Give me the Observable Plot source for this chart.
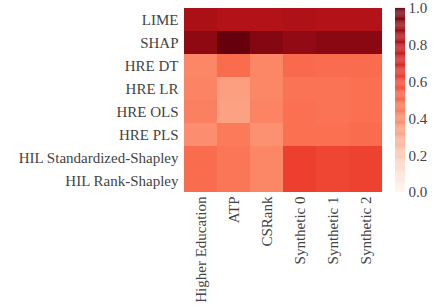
<!DOCTYPE html>
<html>
<head>
<meta charset="utf-8">
<script src="https://cdn.jsdelivr.net/npm/d3@7"></script>
<script src="https://cdn.jsdelivr.net/npm/@observablehq/plot@0.6"></script>
<style>
  body { margin: 0; background: #fff; }
  #wrap { position: relative; width: 433px; height: 308px; }
  #wrap svg { position: absolute; top: 0; }
</style>
</head>
<body>
<div id="wrap"></div>
<script>
const methods = ["LIME", "SHAP", "HRE DT", "HRE LR", "HRE OLS", "HRE PLS", "HIL Standardized-Shapley", "HIL Rank-Shapley"];
const datasets = ["Higher Education", "ATP", "CSRank", "Synthetic 0", "Synthetic 1", "Synthetic 2"];
const LIME = [0.85, 0.83, 0.83, 0.84, 0.83, 0.83];
const SHAP = [0.92, 1.00, 0.94, 0.91, 0.93, 0.93];
const HRE_DT = [0.41, 0.49, 0.41, 0.50, 0.49, 0.49];
const HRE_LR = [0.42, 0.34, 0.41, 0.47, 0.47, 0.48];
const HRE_OLS = [0.43, 0.33, 0.42, 0.48, 0.47, 0.48];
const HRE_PLS = [0.39, 0.45, 0.38, 0.48, 0.48, 0.49];
const HIL_STD = [0.49, 0.46, 0.41, 0.62, 0.60, 0.61];
const HIL_RANK = [0.49, 0.46, 0.41, 0.62, 0.60, 0.61];
const colorTicks = [0, 0.2, 0.4, 0.6, 0.8, 1.0];

const rows = [LIME, SHAP, HRE_DT, HRE_LR, HRE_OLS, HRE_PLS, HIL_STD, HIL_RANK];
const cells = [];
methods.forEach((m, i) => datasets.forEach((d, j) => cells.push({method: m, dataset: d, value: rows[i][j]})));

const font = "'Liberation Serif', 'DejaVu Serif', serif";
const colorOpts = {type: "linear", scheme: "reds", domain: [0, 1]};

const heat = Plot.plot({
  width: 433, height: 308,
  marginLeft: 183, marginRight: 50, marginTop: 8, marginBottom: 116,
  style: {fontFamily: font, fontSize: "15px", color: "#444", background: "transparent"},
  x: {domain: datasets, padding: 0, label: null, tickRotate: -90, tickSize: 0, tickPadding: 4},
  y: {domain: methods, padding: 0, label: null, tickSize: 0, tickPadding: 5},
  color: colorOpts,
  marks: [
    Plot.cell(cells, {x: "dataset", y: "method", fill: "value", inset: 0})
  ]
});

const stops = d3.range(0, 1, 0.005);
const bar = Plot.plot({
  width: 433, height: 308,
  marginLeft: 395, marginRight: 28, marginTop: 8, marginBottom: 116,
  style: {fontFamily: font, fontSize: "15px", color: "#444", background: "transparent"},
  x: {axis: null},
  y: {domain: [0, 1], ticks: colorTicks, tickFormat: d3.format(".1f"), axis: "right", label: null, tickSize: 0, tickPadding: 3},
  color: colorOpts,
  marks: [
    Plot.rect(stops, {y1: d => d, y2: d => d + 0.0055, fill: d => d + 0.0025})
  ]
});

document.getElementById("wrap").append(heat, bar);
</script>
</body>
</html>
